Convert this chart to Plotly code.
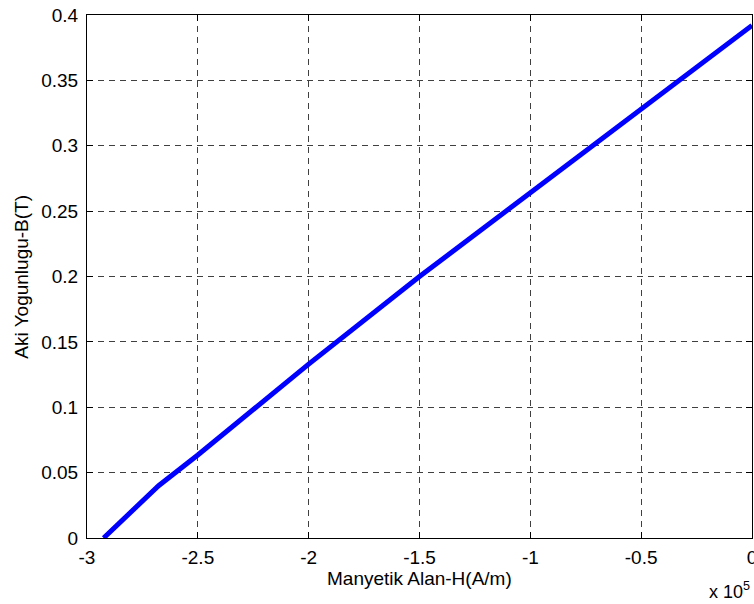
import plotly.graph_objects as go

# Magnetic field strength H (A/m) and flux density B (T)
h_field = [-292500, -285000, -267700, -250000, -200000, -150000, -100000, -50000, 0]
b_flux = [0.0, 0.012, 0.040, 0.0635, 0.133, 0.200, 0.264, 0.3286, 0.392]

x_tickvals = [-300000, -250000, -200000, -150000, -100000, -50000, 0]
x_ticktext = ["-3", "-2.5", "-2", "-1.5", "-1", "-0.5", "0"]
y_tickvals = [0, 0.05, 0.1, 0.15, 0.2, 0.25, 0.3, 0.35, 0.4]
y_ticktext = ["0", "0.05", "0.1", "0.15", "0.2", "0.25", "0.3", "0.35", "0.4"]

FONT = "Liberation Sans, Arial, sans-serif"
FS = 19

fig = go.Figure()
fig.add_trace(go.Scatter(
    x=h_field, y=b_flux, mode="lines",
    line=dict(color="#0000FF", width=5),
    showlegend=False,
))

axis_common = dict(
    showline=True, linecolor="black", linewidth=1, mirror="allticks",
    ticks="inside", ticklen=6, tickcolor="black", tickwidth=1,
    showgrid=True, gridcolor="rgba(0,0,0,0.75)", gridwidth=1, griddash="6px,5px",
    zeroline=False, automargin=False,
    tickfont=dict(family=FONT, size=FS, color="black"),
)

fig.update_xaxes(range=[-300000, 0], tickmode="array", tickvals=x_tickvals,
                 ticktext=x_ticktext, ticklabelstandoff=2,
                 ticklabeloverflow="allow", **axis_common)
fig.update_yaxes(range=[0, 0.4], tickmode="array", tickvals=y_tickvals,
                 ticktext=y_ticktext, ticklabelstandoff=4, **axis_common)

fig.add_annotation(text="Manyetik Alan-H(A/m)", xref="paper", yref="paper",
                   x=0.5, y=-0.078, xanchor="center", yanchor="middle",
                   showarrow=False, font=dict(family=FONT, size=FS, color="black"))
fig.add_annotation(text="Aki Yogunlugu-B(T)", xref="paper", yref="paper",
                   x=-0.099, y=0.5, xanchor="center", yanchor="middle", textangle=-90,
                   showarrow=False, font=dict(family=FONT, size=FS, color="black"))
fig.add_annotation(text="x 10<sup>5</sup>", xref="paper", yref="paper",
                   x=1.0, y=-0.1, xanchor="right", yanchor="middle",
                   showarrow=False, font=dict(family=FONT, size=FS - 1, color="black"))

fig.update_layout(
    width=754, height=604,
    margin=dict(l=87, r=2, t=15, b=66),
    paper_bgcolor="white", plot_bgcolor="white",
)

fig.write_html("out.html")
